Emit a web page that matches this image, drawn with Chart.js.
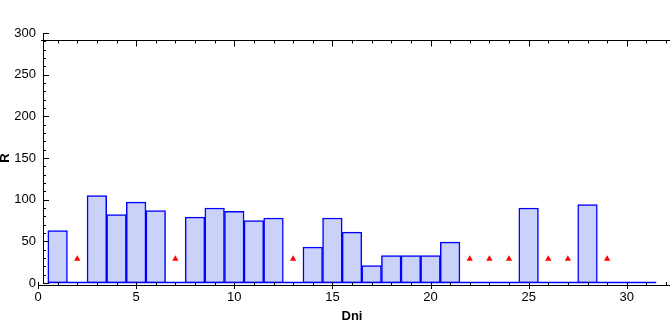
<!DOCTYPE html>
<html>
<head>
<meta charset="utf-8">
<script src="https://cdn.jsdelivr.net/npm/chart.js@4/dist/chart.umd.min.js"></script>
<style>
  html, body { margin: 0; padding: 0; background: #fff; }
  #wrap { width: 670px; height: 325px; position: relative; }
</style>
</head>
<body>
<div id="wrap"><canvas id="myChart"></canvas></div>
<script>
// data
const dni = [1, 2, 3, 4, 5, 6, 7, 8, 9, 10, 11, 12, 13, 14, 15, 16, 17, 18, 19, 20, 21, 22, 23, 24, 25, 26, 27, 28, 29, 30, 31];
const rValues = [63, 0, 105, 82, 97, 87, 0, 79, 90, 86, 75, 78, 0, 43, 78, 61, 21, 33, 33, 33, 49, 0, 0, 0, 90, 0, 0, 94, 0, 0, 0];
const markerDni = [2, 7, 13, 22, 23, 24, 26, 27, 29];
const markerR = [29, 29, 29, 29, 29, 29, 29, 29, 29];
const xTicks = [0, 5, 10, 15, 20, 25, 30];
const yTicks = [0, 50, 100, 150, 200, 250, 300];

const FONT = "'Liberation Sans', Arial, sans-serif";

// axis frame like the original (detached axes, inner ticks)
const framePlugin = {
    id: 'frame',
    afterDraw(chart) {
        const ctx = chart.ctx;
        const x = chart.scales.x;
        const y = chart.scales.y;
        const y0 = y.getPixelForValue(0);
        const x0 = x.getPixelForValue(0);
        const axisX = x0 + 5;           // y axis line
        const axisY = y0 + 2;           // x axis line
        const topY = y.top + 7.5;       // upper frame line

        ctx.save();

        // blue baseline under the bins
        ctx.strokeStyle = '#0000ff';
        ctx.lineWidth = 1.5;
        ctx.beginPath();
        ctx.moveTo(x.getPixelForValue(dni[0] - 0.5), y0 - 0.5);
        ctx.lineTo(x.getPixelForValue(dni[dni.length - 1] + 0.5), y0 - 0.5);
        ctx.stroke();

        ctx.strokeStyle = '#000';
        ctx.lineWidth = 1;
        ctx.beginPath();
        // y axis
        ctx.moveTo(axisX + 0.5, y.getPixelForValue(300));
        ctx.lineTo(axisX + 0.5, y0);
        for (let v = 0; v <= 300; v += 10) {
            const py = Math.round(y.getPixelForValue(v)) + 0.5;
            const len = v % 50 === 0 ? 6 : 3;
            ctx.moveTo(axisX, py);
            ctx.lineTo(axisX + len, py);
        }
        // x axis
        ctx.moveTo(x0, axisY + 0.5);
        ctx.lineTo(chart.width, axisY + 0.5);
        for (let v = 0; v <= 32; v++) {
            const px = Math.round(x.getPixelForValue(v)) + 0.5;
            if (v % 5 === 0) {
                ctx.moveTo(px, axisY - 3);
                ctx.lineTo(px, axisY + 4);
            } else {
                ctx.moveTo(px, axisY - 3);
                ctx.lineTo(px, axisY);
            }
        }
        // top frame
        ctx.moveTo(axisX - 2, topY);
        ctx.lineTo(chart.width, topY);
        for (let v = 0; v <= 32; v++) {
            const px = Math.round(x.getPixelForValue(v)) + 0.5;
            if (px < axisX + 2) continue;
            ctx.moveTo(px, topY);
            ctx.lineTo(px, topY + (v % 5 === 0 ? 6 : 3));
        }
        ctx.stroke();
        ctx.restore();
    }
};

const data = {
    datasets: [{
        type: 'bar',
        label: 'R',
        data: dni.map((d, i) => ({ x: d, y: rValues[i] })),
        backgroundColor: 'rgb(202, 210, 250)',
        borderColor: '#0000ff',
        borderWidth: 1.5,
        borderSkipped: false,
        barPercentage: 1,
        categoryPercentage: 1,
        order: 2,
    }, {
        type: 'scatter',
        label: 'marks',
        data: markerDni.map((d, i) => ({ x: d, y: markerR[i] })),
        pointStyle: 'triangle',
        pointRadius: 3.6,
        backgroundColor: '#ff0000',
        borderColor: '#ff0000',
        borderWidth: 0,
        order: 1,
    }],
};

const config = {
    type: 'bar',
    data: data,
    options: {
        responsive: true,
        maintainAspectRatio: false,
        animation: false,
        layout: { padding: { left: 0, right: 2, top: 33, bottom: 0 } },
        plugins: {
            legend: false,
            tooltip: false,
        },
        scales: {
            x: {
                type: 'linear',
                min: 0,
                max: 32,
                offset: false,
                grid: { display: false, drawTicks: false },
                border: { display: false },
                afterFit: (s) => { s.height = 42; },
                afterBuildTicks: (s) => { s.ticks = xTicks.map(v => ({ value: v })); },
                ticks: {
                    color: '#000',
                    padding: 7,
                    maxRotation: 0,
                    font: { family: FONT, size: 13 },
                },
                title: {
                    display: true,
                    text: 'Dni',
                    color: '#000',
                    padding: 1,
                    font: { family: FONT, size: 13, weight: 'bold' },
                },
            },
            y: {
                min: 0,
                max: 300,
                grid: { display: false, drawTicks: false },
                border: { display: false },
                afterFit: (s) => { s.width = 38; },
                afterBuildTicks: (s) => { s.ticks = yTicks.map(v => ({ value: v })); },
                ticks: {
                    color: '#000',
                    padding: 2,
                    font: { family: FONT, size: 13 },
                },
                title: {
                    display: true,
                    text: 'R',
                    color: '#000',
                    padding: 0,
                    font: { family: FONT, size: 13, weight: 'bold', lineHeight: 0.8 },
                },
            },
        },
    },
    plugins: [framePlugin],
};

const myChart = new Chart(document.getElementById('myChart'), config);
</script>
</body>
</html>
